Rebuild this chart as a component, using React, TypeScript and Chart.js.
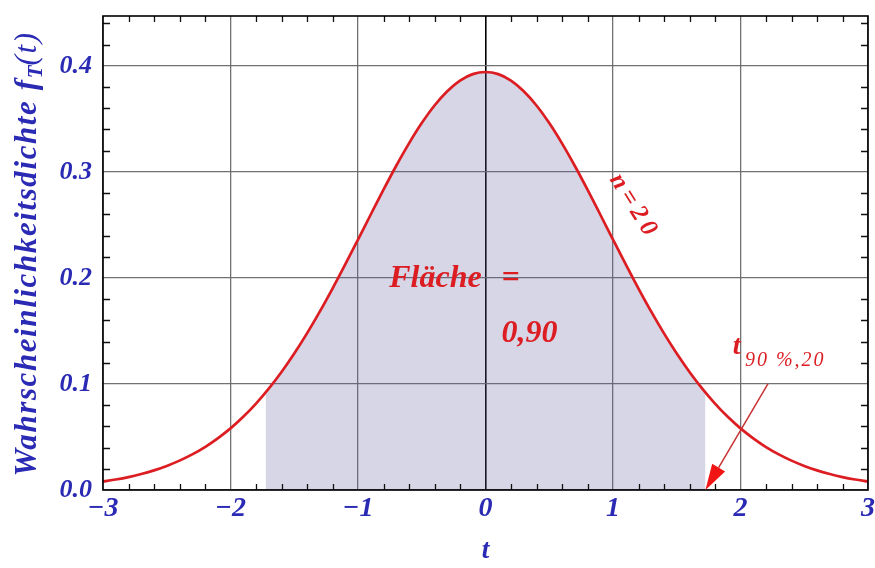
import React, { useEffect, useRef } from 'react';
import { Chart, registerables } from 'chart.js';

Chart.register(...registerables);

// Student t density, n = 20 degrees of freedom
const tValues = [
  -3.0, -2.9, -2.8, -2.7, -2.6, -2.5, -2.4, -2.3, -2.2, -2.1,
  -2.0, -1.9, -1.8, -1.7, -1.6, -1.5, -1.4, -1.3, -1.2, -1.1,
  -1.0, -0.9, -0.8, -0.7, -0.6, -0.5, -0.4, -0.3, -0.2, -0.1,
  0.0, 0.1, 0.2, 0.3, 0.4, 0.5, 0.6, 0.7, 0.8, 0.9,
  1.0, 1.1, 1.2, 1.3, 1.4, 1.5, 1.6, 1.7, 1.8, 1.9,
  2.0, 2.1, 2.2, 2.3, 2.4, 2.5, 2.6, 2.7, 2.8, 2.9, 3.0,
];
const densityValues = [
  0.0080, 0.0099, 0.0122, 0.0151, 0.0185, 0.0227, 0.0277, 0.0336, 0.0405, 0.0487,
  0.0581, 0.0690, 0.0815, 0.0956, 0.1113, 0.1287, 0.1477, 0.1682, 0.1900, 0.2128,
  0.2362, 0.2598, 0.2832, 0.3058, 0.3269, 0.3460, 0.3626, 0.3761, 0.3861, 0.3922,
  0.3942, 0.3922, 0.3861, 0.3761, 0.3626, 0.3460, 0.3269, 0.3058, 0.2832, 0.2598,
  0.2362, 0.2128, 0.1900, 0.1682, 0.1477, 0.1287, 0.1113, 0.0956, 0.0815, 0.0690,
  0.0581, 0.0487, 0.0405, 0.0336, 0.0277, 0.0227, 0.0185, 0.0151, 0.0122, 0.0099, 0.0080,
];

// Shaded central area between -t(90 %, 20) and +t(90 %, 20)
const areaT = [
  -1.725, -1.7, -1.6, -1.5, -1.4, -1.3, -1.2, -1.1, -1.0, -0.9, -0.8, -0.7, -0.6, -0.5, -0.4,
  -0.3, -0.2, -0.1, 0.0, 0.1, 0.2, 0.3, 0.4, 0.5, 0.6, 0.7, 0.8, 0.9, 1.0, 1.1, 1.2, 1.3,
  1.4, 1.5, 1.6, 1.7, 1.725,
];
const areaDensity = [
  0.0919, 0.0956, 0.1113, 0.1287, 0.1477, 0.1682, 0.1900, 0.2128, 0.2362, 0.2598, 0.2832,
  0.3058, 0.3269, 0.3460, 0.3626, 0.3761, 0.3861, 0.3922, 0.3942, 0.3922, 0.3861, 0.3761,
  0.3626, 0.3460, 0.3269, 0.3058, 0.2832, 0.2598, 0.2362, 0.2128, 0.1900, 0.1682, 0.1477,
  0.1287, 0.1113, 0.0956, 0.0919,
];

const xTickValues = [-3, -2, -1, 0, 1, 2, 3];
const yTickValues = [0.0, 0.1, 0.2, 0.3, 0.4];
const X_MIN = -3;
const X_MAX = 3;
const Y_MAX = 0.447;
const T_CRIT = 1.725;

const BLUE = '#2a2ab4';
const RED = '#dc1e23';
const GRID = 'rgba(105,105,105,0.95)';
const FILL = 'rgba(90,90,160,0.25)';
const SERIF = "'Liberation Serif', 'Times New Roman', serif";

const bi = (size: number) => `italic bold ${size}px ${SERIF}`;

const decorations = {
  id: 'decorations',
  afterDraw(chart: any) {
    const { ctx, chartArea } = chart;
    const xs = chart.scales.x;
    const ys = chart.scales.y;
    const { left, right, top, bottom } = chartArea;

    ctx.save();
    // minor ticks, pointing inward on all four sides
    ctx.strokeStyle = '#111';
    ctx.lineWidth = 1.3;
    ctx.beginPath();
    for (let k = -15; k <= 15; k++) {
      if (k % 5 === 0) continue;
      const px = Math.round(xs.getPixelForValue(k / 5)) + 0.5;
      ctx.moveTo(px, bottom);
      ctx.lineTo(px, bottom - 6);
      ctx.moveTo(px, top);
      ctx.lineTo(px, top + 6);
    }
    for (let k = 1; k <= 22; k++) {
      if (k % 5 === 0) continue;
      const py = Math.round(ys.getPixelForValue(k * 0.02)) + 0.5;
      ctx.moveTo(left, py);
      ctx.lineTo(left + 7, py);
      ctx.moveTo(right, py);
      ctx.lineTo(right - 7, py);
    }
    ctx.stroke();

    // frame
    ctx.lineWidth = 1.6;
    ctx.strokeStyle = '#000';
    ctx.strokeRect(left, top, right - left, bottom - top);

    // y axis title with subscript
    ctx.save();
    ctx.translate(36, 254);
    ctx.rotate(-Math.PI / 2);
    ctx.fillStyle = BLUE;
    ctx.textBaseline = 'alphabetic';
    const parts = [
      { text: 'Wahrscheinlichkeitsdichte f', font: bi(31), dy: 0, sp: 1.6 },
      { text: 'T', font: bi(21), dy: 6, sp: 0 },
      { text: '(t)', font: `italic 31px ${SERIF}`, dy: 0, sp: 1.6 },
    ];
    let total = 0;
    for (const p of parts) {
      ctx.font = p.font;
      (ctx as any).letterSpacing = p.sp + 'px';
      total += ctx.measureText(p.text).width;
    }
    let cx = -total / 2;
    for (const p of parts) {
      ctx.font = p.font;
      (ctx as any).letterSpacing = p.sp + 'px';
      ctx.fillText(p.text, cx, p.dy);
      cx += ctx.measureText(p.text).width;
    }
    ctx.restore();
    (ctx as any).letterSpacing = '0px';

    // area annotation
    ctx.fillStyle = RED;
    ctx.font = bi(32);
    ctx.fillText('Fläche', xs.getPixelForValue(-0.755), ys.getPixelForValue(0.1915));
    ctx.fillText('=', xs.getPixelForValue(0.125), ys.getPixelForValue(0.1915));
    ctx.fillText('0,90', xs.getPixelForValue(0.125), ys.getPixelForValue(0.14));

    // curve label, along the curve
    ctx.save();
    ctx.translate(xs.getPixelForValue(0.97), ys.getPixelForValue(0.293));
    ctx.rotate((58 * Math.PI) / 180);
    ctx.font = bi(25);
    (ctx as any).letterSpacing = '5px';
    ctx.fillText('n=20', 0, 0);
    ctx.restore();
    (ctx as any).letterSpacing = '0px';

    // critical value label
    ctx.font = bi(28);
    ctx.fillText('t', xs.getPixelForValue(1.94), ys.getPixelForValue(0.1285));
    ctx.font = `italic 20px ${SERIF}`;
    (ctx as any).letterSpacing = '2px';
    ctx.fillText('90 %,20', xs.getPixelForValue(2.035), ys.getPixelForValue(0.117));
    (ctx as any).letterSpacing = '0px';

    // arrow to the critical value on the t axis
    const x0 = xs.getPixelForValue(2.215);
    const y0 = ys.getPixelForValue(0.1);
    const x1 = xs.getPixelForValue(T_CRIT);
    const y1 = ys.getPixelForValue(0);
    const ang = Math.atan2(y1 - y0, x1 - x0);
    const headLen = 26;
    const headHalf = 7.5;
    const bx = x1 - headLen * Math.cos(ang);
    const by = y1 - headLen * Math.sin(ang);
    ctx.strokeStyle = '#c83232';
    ctx.lineWidth = 1.5;
    ctx.beginPath();
    ctx.moveTo(x0, y0);
    ctx.lineTo(bx, by);
    ctx.stroke();
    ctx.fillStyle = '#f01414';
    ctx.beginPath();
    ctx.moveTo(x1, y1);
    ctx.lineTo(bx + headHalf * Math.sin(ang), by - headHalf * Math.cos(ang));
    ctx.lineTo(bx - headHalf * Math.sin(ang), by + headHalf * Math.cos(ang));
    ctx.closePath();
    ctx.fill();

    ctx.restore();
  },
};

export default function App() {
  const canvasRef = useRef<HTMLCanvasElement | null>(null);

  useEffect(() => {
    const canvas = canvasRef.current;
    if (!canvas) return;
    const gridColor = (c: any) => (c.tick && c.tick.value === 0 ? '#000' : GRID);
    const chart = new Chart(canvas, {
      type: 'line',
      data: {
        datasets: [
          {
            label: 'n=20',
            data: tValues.map((x, i) => ({ x, y: densityValues[i] })),
            borderColor: RED,
            borderWidth: 2.7,
            pointRadius: 0,
            fill: false,
            cubicInterpolationMode: 'monotone',
            order: 0,
          },
          {
            label: 'Fläche',
            data: areaT.map((x, i) => ({ x, y: areaDensity[i] })),
            borderWidth: 0,
            borderColor: 'rgba(0,0,0,0)',
            backgroundColor: FILL,
            pointRadius: 0,
            fill: 'origin',
            cubicInterpolationMode: 'monotone',
            order: 1,
          },
        ],
      },
      options: {
        animation: false,
        responsive: false,
        devicePixelRatio: 1,
        layout: { padding: { top: 16, right: 7, left: 0, bottom: 0 } },
        plugins: {
          legend: { display: false },
          tooltip: { enabled: false },
        },
        scales: {
          x: {
            type: 'linear',
            min: X_MIN,
            max: X_MAX,
            afterBuildTicks: (s: any) => {
              s.ticks = xTickValues.map((value) => ({ value }));
            },
            afterFit: (s: any) => {
              s.height = 78;
              s.paddingLeft = 0;
              s.paddingRight = 0;
            },
            grid: {
              color: gridColor,
              lineWidth: (c: any) => (c.tick && c.tick.value === 0 ? 1.6 : 1.3),
              drawTicks: false,
            },
            border: { display: false },
            ticks: {
              color: BLUE,
              font: { family: SERIF, size: 28, style: 'italic', weight: 'bold' },
              padding: 2,
              maxRotation: 0,
              autoSkip: false,
              callback: (v: any) => (v < 0 ? '\u2212' + Math.abs(v) : String(v)),
            },
            title: {
              display: true,
              text: 't',
              color: BLUE,
              font: { family: SERIF, size: 27, style: 'italic', weight: 'bold' },
              padding: { top: 0, bottom: 1 },
            },
          },
          y: {
            type: 'linear',
            min: 0,
            max: Y_MAX,
            afterBuildTicks: (s: any) => {
              s.ticks = yTickValues.map((value) => ({ value }));
            },
            afterFit: (s: any) => {
              s.width = 103;
              s.paddingTop = 0;
              s.paddingBottom = 0;
            },
            grid: {
              color: GRID,
              lineWidth: 1.3,
              drawTicks: false,
            },
            border: { display: false },
            ticks: {
              color: BLUE,
              font: { family: SERIF, size: 26, style: 'italic', weight: 'bold' },
              padding: 11,
              callback: (v: any) => Number(v).toFixed(1),
            },
          },
        },
      },
      plugins: [decorations],
    } as any);
    return () => chart.destroy();
  }, []);

  return (
    <div style={{ position: 'absolute', left: 0, top: 0, width: 875, height: 568, background: '#fff' }}>
      <canvas ref={canvasRef} width={875} height={568} />
    </div>
  );
}
